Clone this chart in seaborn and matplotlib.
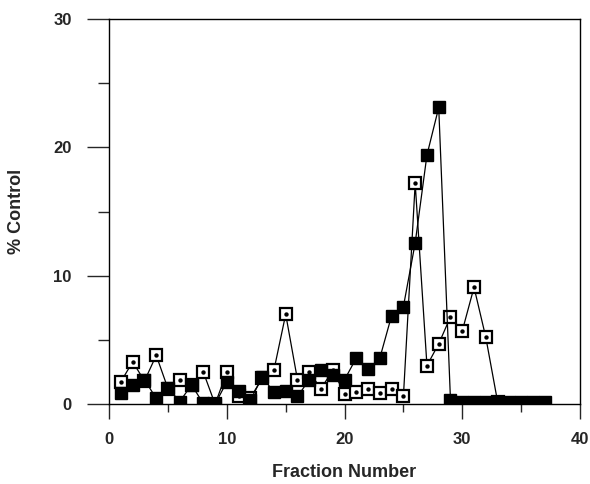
import numpy as np
import pandas as pd
import seaborn as sns
import matplotlib.pyplot as plt

# fraction numbers
frac_filled = list(range(1, 38))
frac_open = list(range(1, 34))

# % control, filled squares
filled_vals = [0.9, 1.5, 1.9, 0.45, 1.25, 0.2, 1.5, 0.05, 0.0, 1.75,
               1.0, 0.3, 2.1, 0.95, 1.0, 0.6, 1.9, 2.65, 2.25, 1.9,
               3.6, 2.7, 3.6, 6.9, 7.6, 12.55, 19.4, 23.1, 0.3, 0.2,
               0.2, 0.2, 0.2, 0.2, 0.2, 0.2, 0.2]

# % control, open squares with dot
open_vals = [1.75, 3.3, 1.8, 3.8, 1.2, 1.9, 1.5, 2.5, 0.0, 2.5,
             0.6, 0.5, 2.0, 2.65, 7.0, 1.9, 2.5, 1.2, 2.65, 0.8,
             0.95, 1.15, 0.85, 1.15, 0.6, 17.2, 3.0, 4.7, 6.8, 5.7,
             9.1, 5.2, 0.2]

df_f = pd.DataFrame({'fraction': frac_filled, 'pct': filled_vals})
df_o = pd.DataFrame({'fraction': frac_open, 'pct': open_vals})

sns.set_style("ticks")
plt.rcParams['font.family'] = ['Liberation Sans', 'DejaVu Sans']

fig = plt.figure(figsize=(5.9, 4.84), dpi=100)
ax = fig.add_axes([0.185, 0.165, 0.798, 0.796])

# open squares
sns.lineplot(data=df_o, x='fraction', y='pct', ax=ax, color='black', lw=0.9,
             marker='s', markersize=8.5, markerfacecolor='white',
             markeredgecolor='black', markeredgewidth=1.6, zorder=2)
# dots inside the open squares
sns.scatterplot(data=df_o, x='fraction', y='pct', ax=ax, color='black',
                s=10, linewidth=0, zorder=3)
# filled squares
sns.lineplot(data=df_f, x='fraction', y='pct', ax=ax, color='black', lw=0.9,
             marker='s', markersize=8.5, markerfacecolor='black',
             markeredgecolor='black', markeredgewidth=1, zorder=4)

ax.set_xlim(0, 40)
ax.set_ylim(0, 30)
ax.set_xticks([0, 10, 20, 30, 40])
ax.set_yticks([0, 10, 20, 30])
ax.set_xticks([5, 15, 25, 35], minor=True)
ax.set_yticks([5, 15, 25], minor=True)
ax.tick_params(axis='x', which='major', length=11, width=1, pad=9, labelsize=12)
ax.tick_params(axis='x', which='minor', length=6, width=1)
ax.tick_params(axis='y', which='major', length=16, width=1, pad=11, labelsize=12)
ax.tick_params(axis='y', which='minor', length=8, width=1)
for lab in ax.get_xticklabels() + ax.get_yticklabels():
    lab.set_fontweight('bold')
for sp in ax.spines.values():
    sp.set_linewidth(1)
    sp.set_color('black')

ax.set_xlabel('Fraction Number', fontsize=13, fontweight='bold', labelpad=12)
ax.set_ylabel('% Control', fontsize=13, fontweight='bold', labelpad=20)

fig.savefig('out.png', dpi=100)
